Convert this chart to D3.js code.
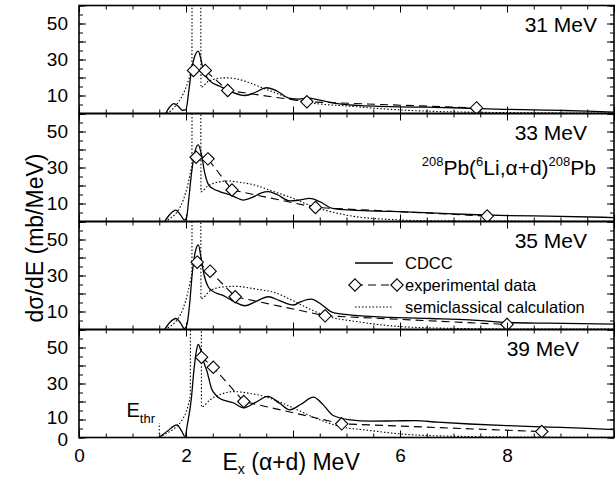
<!DOCTYPE html>
<html><head><meta charset="utf-8">
<script src="https://cdn.jsdelivr.net/npm/d3@7"></script>
<style>
body{margin:0;background:#fff}
svg{display:block}
text{font-family:"Liberation Sans",Arial,Helvetica,sans-serif;fill:#000}
</style>
</head><body>
<svg id="chart" width="615" height="477"></svg>
<script>
// ---- data ----
const beamLabels = ["31 MeV", "33 MeV", "35 MeV", "39 MeV"];
const xTickLabels = [0, 2, 6, 8];
const yTickLabels = [10, 30, 50];
const yTickLabelsBottom = [0, 10, 30, 50];

// 31 MeV
const cdcc31E = [1.62,1.70,1.77,1.85,1.93,2.00,2.05,2.10,2.16,2.23,2.28,2.32,2.38,2.45,2.64,2.85,3.10,3.30,3.50,3.70,3.92,4.10,4.28,4.50,4.80,5.20,5.60,6.00,6.50,7.00,7.50,8.00,8.50,9.00,9.50,10.0];
const cdcc31  = [0,3.8,5.5,4.2,1.8,2.2,12,23.5,31.5,34.6,30,24.4,20.5,18,15,12,10,11.8,14.3,12.5,8.5,8.0,8.5,7.4,5.6,4.5,4.0,3.7,3.5,3.2,2.7,2.3,2.0,1.7,1.3,0.8];
const semi31E = [1.64,1.75,1.85,1.95,2.03,2.08,2.11,2.12,2.27,2.28,2.40,2.55,2.75,2.95,3.15,3.35,3.55,3.80,4.00,4.30,4.60,5.00,5.50,6.00,6.50,7.00,8.00,9.00,10.0];
const semi31  = [0,2.5,6,11,17,22,26,200,200,14.5,17.5,19.2,19.8,19.2,17.5,15.2,12.8,10,8,6,5,4.2,3.0,2.0,1.3,0.9,0.5,0.3,0.2];
const exp31E  = [2.14,2.36,2.78,4.26,7.43];
const exp31   = [23.9,23.9,12.8,6.5,3.1];

// 33 MeV
const cdcc33E = [1.60,1.70,1.81,1.90,1.97,2.01,2.05,2.10,2.16,2.23,2.29,2.35,2.42,2.50,2.63,2.80,2.92,3.07,3.25,3.40,3.54,3.70,3.94,4.10,4.31,4.50,4.74,5.10,5.84,6.57,7.30,8.03,8.76,10.0];
const cdcc33  = [0,4,6.3,3.5,0.8,2,12,26,38,42.6,37,27,20.5,18.3,16.6,15,13.5,11.9,13.5,15.8,16.6,15,11.5,11.8,12.8,11,7.3,6.3,5.6,4.8,3.9,3.3,3.0,2.2];
const semi33E = [1.60,1.72,1.85,1.95,2.03,2.08,2.11,2.12,2.27,2.28,2.40,2.55,2.77,3.00,3.28,3.60,4.01,4.38,4.70,5.10,5.84,6.57,8.00,10.0];
const semi33  = [0,2,6,12,20,27,32,200,200,16.6,19.5,21.5,22.5,21.8,20.3,17,12.8,8.2,5.5,3,1.1,0.4,0.2,0.1];
const exp33E  = [2.19,2.41,2.86,4.42,7.63];
const exp33   = [35.7,34.8,17.5,7.8,3.0];

// 35 MeV
const cdcc35E = [1.60,1.70,1.81,1.90,1.97,2.02,2.07,2.12,2.18,2.23,2.28,2.34,2.41,2.48,2.70,2.90,3.10,3.30,3.54,3.75,4.01,4.15,4.34,4.55,4.74,5.10,5.84,6.57,7.30,8.03,8.76,10.0];
const cdcc35  = [0,4,6.1,3.5,0.5,3,15,32,44,47,40,30,24,21.6,18.8,15.5,13.2,15.5,18.2,16,13.6,15.5,16.9,13.5,9.5,8.0,6.7,6.1,5.4,3.9,3.5,3.0];
const semi35E = [1.60,1.72,1.85,1.95,2.03,2.08,2.11,2.12,2.27,2.28,2.45,2.65,2.92,3.30,3.65,4.00,4.38,4.75,5.10,5.84,6.57,8.00,10.0];
const semi35  = [0,2,6,12,20,27,32,200,200,17,21.5,23.5,24,22.5,20.6,16,10.4,6.5,4.8,2.0,0.9,0.3,0.2];
const exp35E  = [2.21,2.45,2.92,4.60,8.00];
const exp35   = [37.4,32.4,18.2,7.6,2.8];

// 39 MeV
const cdcc39E = [1.50,1.65,1.83,1.92,1.98,2.03,2.10,2.15,2.20,2.23,2.27,2.33,2.39,2.48,2.56,2.64,2.88,3.08,3.30,3.53,3.75,3.94,4.15,4.38,4.57,4.75,5.07,5.44,5.90,6.28,6.70,7.30,8.00,8.80,9.40,10.0];
const cdcc39  = [0,3.5,7,3.5,0.5,8,21.6,38,49,51.7,49,42,37,27,23.5,21.5,19.3,16.5,19.5,22.8,19,15.4,18.5,22.4,18,12.2,9.8,9.1,9.2,9.4,8.5,7.5,6.6,5.8,5.2,4.4];
const semi39E = [1.50,1.65,1.78,1.92,2.00,2.04,2.08,2.09,2.28,2.29,2.45,2.65,2.88,3.20,3.51,4.00,4.38,4.88,5.44,6.00,7.00,8.00,10.0];
const semi39  = [0,2.5,5,9.4,14,17.8,24,200,200,16.9,21,24,25.5,24.5,22.4,16.5,11.3,6.1,3.9,2.0,0.7,0.3,0.1];
const exp39E  = [2.29,2.51,3.08,4.91,8.65];
const exp39   = [44.6,39,20,7.6,3.3];

const ethr = 1.50;          // threshold marker (39 MeV panel)
const ethrTop = 8;

const panels = [
  {label: beamLabels[0], cE: cdcc31E, c: cdcc31, sE: semi31E, s: semi31, eE: exp31E, e: exp31},
  {label: beamLabels[1], cE: cdcc33E, c: cdcc33, sE: semi33E, s: semi33, eE: exp33E, e: exp33},
  {label: beamLabels[2], cE: cdcc35E, c: cdcc35, sE: semi35E, s: semi35, eE: exp35E, e: exp35},
  {label: beamLabels[3], cE: cdcc39E, c: cdcc39, sE: semi39E, s: semi39, eE: exp39E, e: exp39}
];

// ---- layout ----
const svg = d3.select("#chart");
const left = 79, right = 614, top0 = 5.5, ph = 108;
const x = d3.scaleLinear().domain([0, 10]).range([left, right]);
const labelEnds = [597, 587, 587, 579];
const fontTick = 19;

const diamond = (g, pts, y) => {
  g.selectAll("path.dm").data(pts).join("path").attr("class","dm")
    .attr("d", d => { const cx = x(d[0]), cy = y(d[1]), r = 6.2;
      return `M${cx},${cy-r}L${cx+r},${cy}L${cx},${cy+r}L${cx-r},${cy}Z`; })
    .attr("fill", "#fff").attr("stroke", "#000").attr("stroke-width", 1.1);
};

panels.forEach((p, i) => {
  const top = top0 + i * ph, bottom = top + ph;
  const y = d3.scaleLinear().domain([0, 60]).range([bottom, top]);
  const g = svg.append("g");
  const cid = "clip" + i;
  svg.append("clipPath").attr("id", cid).append("rect")
    .attr("x", left).attr("y", top).attr("width", right - left).attr("height", ph);
  const plot = g.append("g").attr("clip-path", `url(#${cid})`);

  const line = d3.line().x(d => x(d[0])).y(d => y(d[1])).curve(d3.curveMonotoneX);
  const lin = d3.line().x(d => x(d[0])).y(d => y(d[1]));

  // semiclassical (dotted)
  plot.append("path").datum(p.sE.map((e, k) => [e, p.s[k]]))
    .attr("d", line).attr("fill", "none").attr("stroke", "#000")
    .attr("stroke-width", 1.1).attr("stroke-dasharray", "1.5,2");
  // CDCC (solid)
  plot.append("path").datum(p.cE.map((e, k) => [e, p.c[k]]))
    .attr("d", line).attr("fill", "none").attr("stroke", "#000").attr("stroke-width", 1.3);
  // experimental (dashed + diamonds)
  const ep = p.eE.map((e, k) => [e, p.e[k]]);
  plot.append("path").datum(ep).attr("d", lin).attr("fill", "none")
    .attr("stroke", "#000").attr("stroke-width", 1.1).attr("stroke-dasharray", "8,5");
  diamond(plot, ep, y);

  if (i === 3) {
    plot.append("path").datum([[ethr, 0], [ethr, ethrTop]]).attr("d", lin)
      .attr("stroke", "#000").attr("stroke-width", 1).attr("stroke-dasharray", "1.5,2");
  }

  // ticks (inward on all sides)
  const minorX = d3.range(0, 10.001, 0.5), majorX = d3.range(0, 10.001, 2);
  const minorY = d3.range(0, 60.001, 5), majorY = d3.range(0, 60.001, 10);
  const tk = (axis, tr) => g.append("g").attr("transform", tr).call(axis)
      .call(s => s.select(".domain").remove()).call(s => s.selectAll("text").remove())
      .call(s => s.selectAll("line").attr("stroke-width", 1));
  tk(d3.axisBottom(x).tickValues(minorX).tickSize(-4), `translate(0,${bottom})`);
  tk(d3.axisBottom(x).tickValues(majorX).tickSize(-7), `translate(0,${bottom})`);
  tk(d3.axisTop(x).tickValues(minorX).tickSize(-4), `translate(0,${top})`);
  tk(d3.axisTop(x).tickValues(majorX).tickSize(-7), `translate(0,${top})`);
  tk(d3.axisLeft(y).tickValues(minorY).tickSize(-4), `translate(${left},0)`);
  tk(d3.axisLeft(y).tickValues(majorY).tickSize(-7), `translate(${left},0)`);
  tk(d3.axisRight(y).tickValues(minorY).tickSize(-4), `translate(${right},0)`);
  tk(d3.axisRight(y).tickValues(majorY).tickSize(-7), `translate(${right},0)`);

  // y labels
  const yl = g.append("g").attr("transform", `translate(${left},0)`)
    .call(d3.axisLeft(y).tickValues(i === 3 ? yTickLabelsBottom : yTickLabels).tickSize(0).tickPadding(11));
  yl.select(".domain").remove();
  yl.selectAll("text").attr("font-size", fontTick).attr("font-family", null);
  if (i === 3) {
    // nudge the crowded 0 / 10 pair apart slightly
    yl.selectAll("text").filter(d => d === 0).attr("dy", "0.42em");
    yl.selectAll("text").filter(d => d === 10).attr("dy", "0.22em");
  }

  // frame
  g.append("rect").attr("x", left).attr("y", top).attr("width", right - left).attr("height", ph)
    .attr("fill", "none").attr("stroke", "#000").attr("stroke-width", 1.6);

  // energy label
  g.append("text").attr("x", labelEnds[i]).attr("y", top + 26.5).attr("text-anchor", "end")
    .attr("font-size", 21).text(p.label);

  if (i === 3) {
    // x tick labels
    const xl = g.append("g").attr("transform", `translate(0,${bottom})`)
      .call(d3.axisBottom(x).tickValues(xTickLabels).tickSize(0).tickPadding(11));
    xl.select(".domain").remove();
    xl.selectAll("text").attr("font-size", fontTick).attr("font-family", null);
    // E_thr
    const t = g.append("text").attr("x", 126.5).attr("y", 417).attr("font-size", 20);
    t.append("tspan").text("E");
    t.append("tspan").attr("font-size", 13).attr("dy", 6).text("thr");
  }
});

// reaction label in 33 MeV panel
{
  const t = svg.append("text").attr("x", 596).attr("y", 175).attr("text-anchor", "end").attr("font-size", 21);
  t.append("tspan").attr("font-size", 13).attr("dy", -9).text("208");
  t.append("tspan").attr("dy", 9).text("Pb(");
  t.append("tspan").attr("font-size", 13).attr("dy", -9).text("6");
  t.append("tspan").attr("dy", 9).text("Li,α+d)");
  t.append("tspan").attr("font-size", 13).attr("dy", -9).text("208");
  t.append("tspan").attr("dy", 9).text("Pb");
}

// legend (35 MeV panel)
{
  const lg = svg.append("g");
  const rows = [263, 285, 307];
  lg.append("line").attr("x1", 355).attr("x2", 393).attr("y1", rows[0]).attr("y2", rows[0])
    .attr("stroke", "#000").attr("stroke-width", 1.3);
  lg.append("text").attr("x", 405).attr("y", rows[0]).attr("dy", "0.35em").attr("font-size", 16.5).text("CDCC");
  lg.append("line").attr("x1", 355).attr("x2", 397).attr("y1", rows[1]).attr("y2", rows[1])
    .attr("stroke", "#000").attr("stroke-width", 1.1).attr("stroke-dasharray", "8,5");
  [355, 397].forEach(cx => lg.append("path")
    .attr("d", `M${cx},${rows[1]-6.2}L${cx+6.2},${rows[1]}L${cx},${rows[1]+6.2}L${cx-6.2},${rows[1]}Z`)
    .attr("fill", "#fff").attr("stroke", "#000").attr("stroke-width", 1.1));
  lg.append("text").attr("x", 405).attr("y", rows[1]).attr("dy", "0.35em").attr("font-size", 16.5).text("experimental data");
  lg.append("line").attr("x1", 355).attr("x2", 393).attr("y1", rows[2]).attr("y2", rows[2])
    .attr("stroke", "#000").attr("stroke-width", 1.1).attr("stroke-dasharray", "1.5,2");
  lg.append("text").attr("x", 405).attr("y", rows[2]).attr("dy", "0.35em").attr("font-size", 16.5).text("semiclassical calculation");
}

// axis titles
{
  const t = svg.append("text").attr("x", 222.5).attr("y", 470).attr("font-size", 23);
  t.append("tspan").text("E");
  t.append("tspan").attr("font-size", 14).attr("dy", 4).text("x");
  t.append("tspan").attr("dy", -4).text(" (α+d) MeV");
  svg.append("text").attr("transform", "translate(43,238) rotate(-90)")
    .attr("text-anchor", "middle").attr("font-size", 23).text("dσ/dE (mb/MeV)");
}
</script>
</body></html>
